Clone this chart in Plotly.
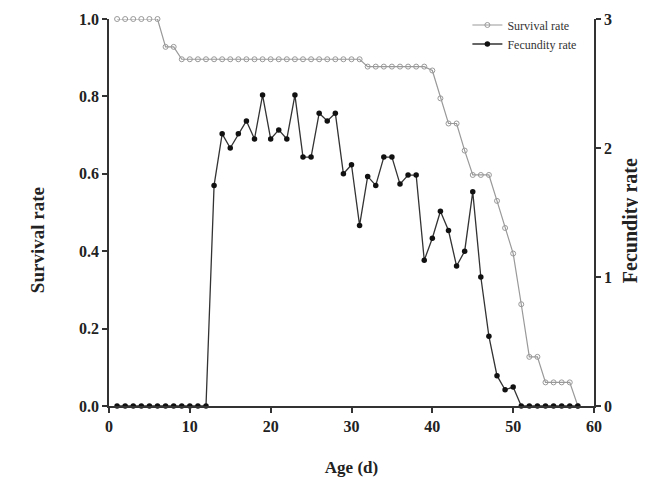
import plotly.graph_objects as go

days = list(range(1, 59))

survival = [1.0, 1.0, 1.0, 1.0, 1.0, 1.0,            # 1-6
            0.928, 0.928,                             # 7-8
            0.896, 0.896, 0.896, 0.896, 0.896, 0.896, 0.896, 0.896, 0.896, 0.896,  # 9-18
            0.896, 0.896, 0.896, 0.896, 0.896, 0.896, 0.896, 0.896, 0.896, 0.896,  # 19-28
            0.896, 0.896, 0.896,                      # 29-31
            0.877, 0.877, 0.877, 0.877, 0.877, 0.877, 0.877, 0.877,  # 32-39
            0.867, 0.795, 0.73, 0.73, 0.66, 0.597, 0.597, 0.597,     # 40-47
            0.53, 0.46, 0.394, 0.263, 0.127, 0.127,                  # 48-53
            0.061, 0.061, 0.061, 0.061, 0.0]                         # 54-58

fecundity = [0, 0, 0, 0, 0, 0, 0, 0, 0, 0, 0, 0,   # 1-12
             1.71, 2.11, 2.0, 2.11, 2.21, 2.07, 2.41, 2.07, 2.14, 2.07,  # 13-22
             2.41, 1.93, 1.93, 2.27, 2.21, 2.27, 1.80, 1.87, 1.40, 1.78,  # 23-32
             1.71, 1.93, 1.93, 1.72, 1.79, 1.79, 1.13, 1.30, 1.51, 1.36,  # 33-42
             1.085, 1.20, 1.66, 1.0, 0.54, 0.235, 0.126, 0.147,            # 43-50
             0, 0, 0, 0, 0, 0, 0, 0]                                       # 51-58

x_ticks = [0, 10, 20, 30, 40, 50, 60]
y_ticks = [0.0, 0.2, 0.4, 0.6, 0.8, 1.0]
y2_ticks = [0, 1, 2, 3]

FONT = "Liberation Serif"

fig = go.Figure()
fig.add_trace(go.Scatter(
    x=days, y=survival, name="Survival rate", mode="lines+markers",
    line=dict(color="#999999", width=1.2),
    marker=dict(symbol="circle-open", size=5, color="#999999", line=dict(width=1)),
    cliponaxis=False,
))
fig.add_trace(go.Scatter(
    x=days, y=fecundity, name="Fecundity rate", mode="lines+markers", yaxis="y2",
    line=dict(color="#333333", width=1.3),
    marker=dict(symbol="circle", size=5.5, color="#111111"),
    cliponaxis=False,
))

axis_common = dict(
    showgrid=False, zeroline=False, showline=True, linecolor="#333333", linewidth=1.5,
    ticks="outside", ticklen=5, tickwidth=1.5, tickcolor="#333333", automargin=False,
    tickfont=dict(family=FONT, size=16, color="#222222", weight="bold"),
)

fig.update_layout(
    width=638, height=469,
    margin=dict(l=101, r=52, t=11, b=71, autoexpand=False),
    paper_bgcolor="white", plot_bgcolor="white",
    font=dict(family=FONT, color="#222222"),
    showlegend=True,
    legend=dict(x=0.974, y=1.022, xanchor="right", yanchor="top",
                font=dict(family=FONT, size=12, color="#333333"),
                bgcolor="rgba(0,0,0,0)", tracegroupgap=0, itemwidth=30),
    xaxis=dict(range=[0, 60], tickvals=x_ticks, **axis_common,
               title=dict(text="Age (d)", font=dict(family=FONT, size=17, weight="bold"), standoff=33)),
    yaxis=dict(range=[0, 1.0], tickvals=y_ticks, tickformat=".1f", **axis_common),
    yaxis2=dict(range=[0, 3], tickvals=y2_ticks, overlaying="y", side="right", **axis_common),
    annotations=[
        dict(text="<b>Survival rate</b>", xref="paper", yref="paper", x=-0.146, y=0.429,
             xanchor="center", yanchor="middle", textangle=-90, showarrow=False,
             font=dict(family=FONT, size=19, color="#222222")),
        dict(text="<b>Fecundity rate</b>", xref="paper", yref="paper", x=1.074, y=0.48,
             xanchor="center", yanchor="middle", textangle=-90, showarrow=False,
             font=dict(family=FONT, size=20, color="#222222")),
    ],
)

fig.write_html("out.html")
